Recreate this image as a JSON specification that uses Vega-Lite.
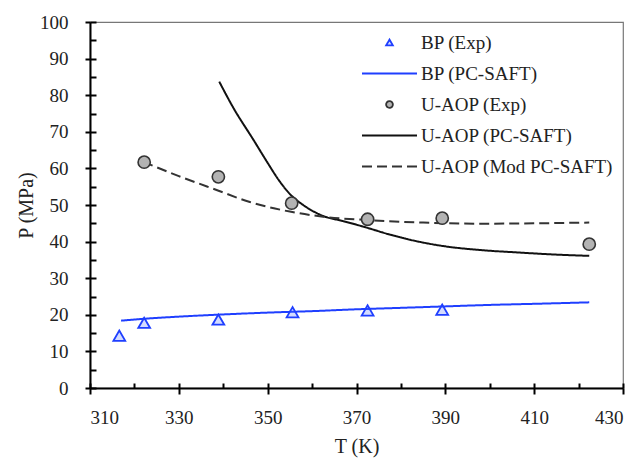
{
  "$schema": "https://vega.github.io/schema/vega-lite/v6.json",
  "width": 533,
  "height": 366,
  "autosize": {"type": "none"},
  "padding": {"left": 90, "top": 22, "right": 18, "bottom": 72},
  "background": "white",
  "config": {
    "font": "Liberation Serif",
    "view": {"stroke": "#777", "strokeWidth": 1.2},
    "axis": {
      "grid": false,
      "labelFont": "Liberation Serif",
      "labelFontSize": 19,
      "labelColor": "#222",
      "titleFont": "Liberation Serif",
      "titleFontSize": 20,
      "titleFontWeight": "normal",
      "titleColor": "#222",
      "domainColor": "#000",
      "domainWidth": 2,
      "tickColor": "#000",
      "tickWidth": 2
    }
  },
  "data": {
    "values": [
      {"series": "BP (Exp)", "T": 316.6, "P": 14.3},
      {"series": "BP (Exp)", "T": 322.2, "P": 17.8},
      {"series": "BP (Exp)", "T": 338.9, "P": 18.7},
      {"series": "BP (Exp)", "T": 355.6, "P": 20.7},
      {"series": "BP (Exp)", "T": 372.5, "P": 21.2},
      {"series": "BP (Exp)", "T": 389.3, "P": 21.4},
      {"series": "BP (PC-SAFT)", "T": 317, "P": 18.4},
      {"series": "BP (PC-SAFT)", "T": 322, "P": 18.9},
      {"series": "BP (PC-SAFT)", "T": 330, "P": 19.5},
      {"series": "BP (PC-SAFT)", "T": 340, "P": 20.1},
      {"series": "BP (PC-SAFT)", "T": 350, "P": 20.6},
      {"series": "BP (PC-SAFT)", "T": 360, "P": 21.0},
      {"series": "BP (PC-SAFT)", "T": 370, "P": 21.5},
      {"series": "BP (PC-SAFT)", "T": 380, "P": 21.9},
      {"series": "BP (PC-SAFT)", "T": 390, "P": 22.3},
      {"series": "BP (PC-SAFT)", "T": 400, "P": 22.7},
      {"series": "BP (PC-SAFT)", "T": 410, "P": 23.0},
      {"series": "BP (PC-SAFT)", "T": 422.4, "P": 23.4},
      {"series": "U-AOP (Exp)", "T": 322.2, "P": 61.7},
      {"series": "U-AOP (Exp)", "T": 338.9, "P": 57.7},
      {"series": "U-AOP (Exp)", "T": 355.4, "P": 50.5},
      {"series": "U-AOP (Exp)", "T": 372.5, "P": 46.1},
      {"series": "U-AOP (Exp)", "T": 389.3, "P": 46.4},
      {"series": "U-AOP (Exp)", "T": 422.4, "P": 39.3},
      {"series": "U-AOP (PC-SAFT)", "T": 339.1, "P": 83.7},
      {"series": "U-AOP (PC-SAFT)", "T": 342.3, "P": 76.5},
      {"series": "U-AOP (PC-SAFT)", "T": 346.8, "P": 67.8},
      {"series": "U-AOP (PC-SAFT)", "T": 350, "P": 61.5},
      {"series": "U-AOP (PC-SAFT)", "T": 352.5, "P": 56.8},
      {"series": "U-AOP (PC-SAFT)", "T": 355, "P": 53.0},
      {"series": "U-AOP (PC-SAFT)", "T": 358, "P": 50.0},
      {"series": "U-AOP (PC-SAFT)", "T": 362.5, "P": 47.0},
      {"series": "U-AOP (PC-SAFT)", "T": 367, "P": 45.6},
      {"series": "U-AOP (PC-SAFT)", "T": 371.5, "P": 44.1},
      {"series": "U-AOP (PC-SAFT)", "T": 377, "P": 42.1},
      {"series": "U-AOP (PC-SAFT)", "T": 382.8, "P": 40.3},
      {"series": "U-AOP (PC-SAFT)", "T": 390, "P": 38.7},
      {"series": "U-AOP (PC-SAFT)", "T": 397.8, "P": 37.7},
      {"series": "U-AOP (PC-SAFT)", "T": 406.8, "P": 37.0},
      {"series": "U-AOP (PC-SAFT)", "T": 414, "P": 36.5},
      {"series": "U-AOP (PC-SAFT)", "T": 422.4, "P": 36.1},
      {"series": "U-AOP (Mod PC-SAFT)", "T": 322.0, "P": 61.8},
      {"series": "U-AOP (Mod PC-SAFT)", "T": 330, "P": 57.9},
      {"series": "U-AOP (Mod PC-SAFT)", "T": 338.5, "P": 54.1},
      {"series": "U-AOP (Mod PC-SAFT)", "T": 346, "P": 50.8},
      {"series": "U-AOP (Mod PC-SAFT)", "T": 355, "P": 48.2},
      {"series": "U-AOP (Mod PC-SAFT)", "T": 362.5, "P": 46.8},
      {"series": "U-AOP (Mod PC-SAFT)", "T": 372.3, "P": 45.9},
      {"series": "U-AOP (Mod PC-SAFT)", "T": 385, "P": 45.2},
      {"series": "U-AOP (Mod PC-SAFT)", "T": 397.8, "P": 44.9},
      {"series": "U-AOP (Mod PC-SAFT)", "T": 410, "P": 45.0},
      {"series": "U-AOP (Mod PC-SAFT)", "T": 422.4, "P": 45.2}
    ]
  },
  "layer": [
    {
      "transform": [{"filter": "indexof(['BP (PC-SAFT)','U-AOP (PC-SAFT)','U-AOP (Mod PC-SAFT)'], datum.series) >= 0"}],
      "mark": {"type": "line", "strokeWidth": 2, "interpolate": "monotone"},
      "encoding": {
        "x": {
          "field": "T", "type": "quantitative",
          "scale": {"domain": [310, 430], "nice": false, "zero": false},
          "axis": {"title": "T (K)", "values": [310, 330, 350, 370, 390, 410, 430], "tickSize": 6, "labelPadding": 14, "titlePadding": 9, "orient": "bottom"}
        },
        "y": {
          "field": "P", "type": "quantitative",
          "scale": {"domain": [0, 100], "nice": false},
          "axis": {"title": "P (MPa)", "values": [0, 10, 20, 30, 40, 50, 60, 70, 80, 90, 100], "tickSize": 5, "labelPadding": 17, "titlePadding": 3, "orient": "left"}
        },
        "stroke": {
          "field": "series", "type": "nominal",
          "scale": {
            "domain": ["BP (Exp)", "BP (PC-SAFT)", "U-AOP (Exp)", "U-AOP (PC-SAFT)", "U-AOP (Mod PC-SAFT)"],
            "range": ["#1f3fff", "#1f3fff", "#333333", "#111111", "#333333"]
          },
          "legend": {
            "title": null,
            "orient": "none",
            "legendX": 290,
            "legendY": 11,
            "labelFont": "Liberation Serif",
            "labelFontSize": 19,
            "labelColor": "#222",
            "labelLimit": 400,
            "symbolSize": 3025,
            "labelOffset": 22,
            "rowPadding": 11,
            "encode": {
              "symbols": {
                "update": {
                  "size": {"signal": "indexof(['BP (Exp)','U-AOP (Exp)'], datum.value) >= 0 ? 45 : 3025"},
                  "strokeWidth": {"signal": "indexof(['BP (Exp)','U-AOP (Exp)'], datum.value) >= 0 ? 1.8 : 2"}
                }
              }
            }
          }
        },
        "strokeDash": {
          "field": "series", "type": "nominal",
          "scale": {
            "domain": ["BP (Exp)", "BP (PC-SAFT)", "U-AOP (Exp)", "U-AOP (PC-SAFT)", "U-AOP (Mod PC-SAFT)"],
            "range": [[1, 0], [1, 0], [1, 0], [1, 0], [10, 5]]
          }
        }
      }
    },
    {
      "transform": [{"filter": "datum.series == 'BP (Exp)'"}],
      "mark": {"type": "point", "size": 140, "strokeWidth": 1.8, "opacity": 1},
      "encoding": {
        "x": {
          "field": "T", "type": "quantitative",
          "scale": {"domain": [310, 430], "nice": false, "zero": false},
          "axis": {"title": null, "labels": false, "domain": false, "values": [310, 320, 330, 340, 350, 360, 370, 380, 390, 400, 410, 420, 430], "tickSize": 5, "offset": -5, "orient": "bottom"}
        },
        "y": {
          "field": "P", "type": "quantitative",
          "scale": {"domain": [0, 100], "nice": false},
          "axis": {"title": null, "labels": false, "domain": false, "values": [0, 5, 10, 15, 20, 25, 30, 35, 40, 45, 50, 55, 60, 65, 70, 75, 80, 85, 90, 95, 100], "tickSize": 6, "offset": -6, "orient": "left"}
        },
        "stroke": {"field": "series", "type": "nominal"},
        "shape": {
          "field": "series", "type": "nominal",
          "scale": {
            "domain": ["BP (Exp)", "BP (PC-SAFT)", "U-AOP (Exp)", "U-AOP (PC-SAFT)", "U-AOP (Mod PC-SAFT)"],
            "range": ["triangle-up", "stroke", "circle", "stroke", "stroke"]
          }
        },
        "fill": {
          "field": "series", "type": "nominal",
          "scale": {
            "domain": ["BP (Exp)", "BP (PC-SAFT)", "U-AOP (Exp)", "U-AOP (PC-SAFT)", "U-AOP (Mod PC-SAFT)"],
            "range": ["rgba(80,110,255,0.25)", "transparent", "#b3b3b3", "transparent", "transparent"]
          }
        }
      }
    },
    {
      "transform": [{"filter": "datum.series == 'U-AOP (Exp)'"}],
      "mark": {"type": "point", "size": 150, "strokeWidth": 1.6, "opacity": 1},
      "encoding": {
        "x": {"field": "T", "type": "quantitative", "scale": {"domain": [310, 430], "nice": false, "zero": false}, "axis": null},
        "y": {"field": "P", "type": "quantitative", "scale": {"domain": [0, 100], "nice": false}, "axis": null},
        "stroke": {"field": "series", "type": "nominal"},
        "shape": {"field": "series", "type": "nominal"},
        "fill": {"field": "series", "type": "nominal"}
      }
    }
  ],
  "resolve": {
    "scale": {"x": "independent", "y": "independent"},
    "axis": {"x": "independent", "y": "independent"}
  }
}
